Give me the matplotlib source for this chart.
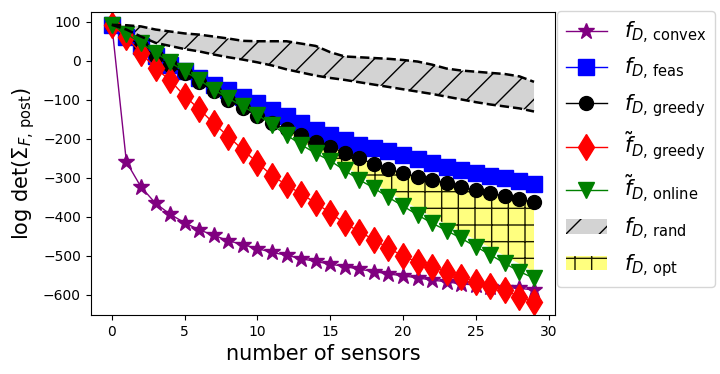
import matplotlib
matplotlib.use("Agg")
import matplotlib.pyplot as plt
import numpy as np

# number of sensors
n_sensors = np.arange(30)

convex = [92, -259, -323, -365, -393, -415, -433, -447, -461, -471,
          -481, -491, -498, -507, -514, -521, -527, -534, -540, -546,
          -551, -556, -562, -566, -572, -574, -579, -581, -583, -587]
feas = [92, 62, 37, 11, -10, -27, -44, -62, -74, -92,
        -107, -126, -141, -160, -177, -191, -203, -215, -224, -232,
        -241, -252, -262, -271, -280, -288, -295, -301, -308, -315]
greedy = [92, 63, 38, 12, -12, -32, -55, -77, -100, -121,
          -141, -160, -176, -191, -207, -221, -235, -250, -264, -277,
          -288, -297, -305, -313, -324, -332, -339, -347, -355, -362]
greedy_tilde = [92, 60, 20, -19, -50, -90, -124, -160, -194, -228,
                -261, -294, -318, -341, -364, -390, -416, -438, -458, -480,
                -500, -516, -527, -540, -553, -566, -577, -588, -604, -617]
online_tilde = [92, 69, 45, 21, -4, -27, -49, -74, -96, -117,
                -138, -164, -190, -215, -237, -256, -281, -305, -326, -350,
                -372, -395, -416, -435, -455, -476, -497, -519, -540, -557]
rand_hi = [92, 91, 88, 80, 75, 70, 67, 62, 57, 51,
           50, 50, 50, 44, 38, 22, 11, 9, 7, 5,
           2, -2, -10, -20, -25, -28, -31, -34, -40, -54]
rand_lo = [92, 80, 62, 46, 38, 30, 24, 16, 9, 3,
           -4, -12, -22, -30, -38, -44, -49, -55, -61, -67,
           -73, -79, -85, -92, -99, -106, -112, -117, -122, -130]
opt_lo = [92, 69, 45, 21, -4, -27, -49, -73, -94, -114,
          -134, -158, -182, -206, -227, -246, -270, -292, -313, -336,
          -357, -379, -400, -419, -439, -459, -479, -500, -520, -540]

fig, ax = plt.subplots(figsize=(7.2, 3.74), dpi=100)
fig.subplots_adjust(left=0.126, right=0.771, top=0.968, bottom=0.158)

ax.plot(n_sensors, convex, color="purple", marker="*", ms=12, lw=1,
        label=r"$f_{D,\,\mathrm{convex}}$")
ax.plot(n_sensors, feas, color="blue", marker="s", ms=11, lw=1,
        label=r"$f_{D,\,\mathrm{feas}}$")
ax.plot(n_sensors, greedy, color="black", marker="o", ms=10, lw=1,
        label=r"$f_{D,\,\mathrm{greedy}}$")
ax.plot(n_sensors, greedy_tilde, color="red", marker="d", ms=13, lw=1,
        label=r"$\tilde{f}_{D,\,\mathrm{greedy}}$")
ax.plot(n_sensors, online_tilde, color="green", marker="v", ms=11, lw=1,
        label=r"$\tilde{f}_{D,\,\mathrm{online}}$")

ax.fill_between(n_sensors, rand_lo, rand_hi, facecolor="lightgray",
                edgecolor="k", hatch="/", linewidth=0,
                label=r"$f_{D,\,\mathrm{rand}}$")
ax.plot(n_sensors, rand_hi, "k--", lw=1.8)
ax.plot(n_sensors, rand_lo, "k--", lw=1.8)
ax.fill_between(n_sensors, opt_lo, greedy, facecolor=(1, 1, 0, 0.5),
                edgecolor=(0.1, 0.1, 0, 1), hatch="+", linewidth=0,
                label=r"$f_{D,\,\mathrm{opt}}$")

ax.set_xlabel("number of sensors", fontsize=15)
ax.set_ylabel(r"log det($\Sigma_{F,\,\mathrm{post}}$)", fontsize=15)
ax.set_ylim(-651, 125)
ax.legend(loc="upper left", bbox_to_anchor=(1.0, 1.01), borderaxespad=0.1,
          fontsize=15)

plt.savefig("out.png")
